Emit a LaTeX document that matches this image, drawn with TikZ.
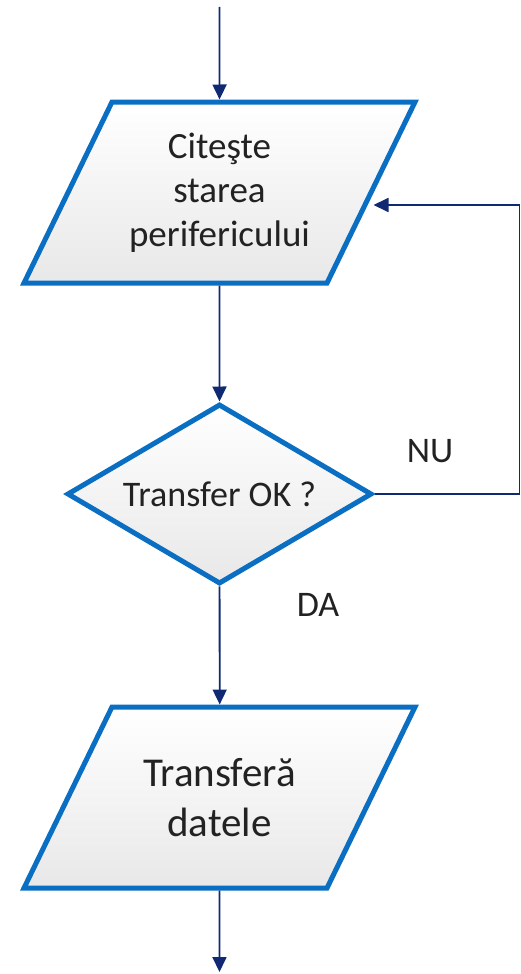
\documentclass[tikz,border=0pt]{standalone}
\usepackage{fontspec}
\setmainfont{Carlito}
\usetikzlibrary{shapes.geometric,arrows.meta,shadows}
\definecolor{boxline}{HTML}{0A6FC2}
\definecolor{flowline}{HTML}{0F2A73}
\definecolor{txt}{HTML}{222222}
\tikzset{
  shapebase/.style={draw=boxline, line width=5pt, line join=miter,
    top color=white, bottom color=black!9, inner sep=0pt,
    drop shadow={opacity=0.12, shadow xshift=2pt, shadow yshift=-2pt}},
  % input/output box: a slanted rectangle
  iobox/.style={shapebase, rectangle, xslant=0.486, transform shape,
    minimum width=303pt, minimum height=181pt},
  decision/.style={shapebase, diamond, shape aspect=1.69,
    minimum width=305pt, minimum height=180pt},
  label/.style={text=txt, align=center},
  flow/.style={draw=flowline, line width=1.8pt,
    -{Triangle[width=14pt,length=15pt]}},
  tag/.style={text=txt, font=\fontsize{36}{43}\selectfont}
}
\begin{document}
\begin{tikzpicture}[x=1pt,y=-1pt]
\useasboundingbox (0,0) rectangle (521,974);

% read the device state
\node[iobox] (readbox) at (219.5,192.5) {};
\node[label, font=\fontsize{37}{44}\selectfont] (read) at (readbox.center)
  {Citeşte\\starea\\perifericului};

% the test
\node[decision, text=txt, font=\fontsize{36}{43}\selectfont] (test) at (219.5,494)
  {Transfer OK ?};

% transfer the data
\node[iobox] (xferbox) at (219.5,797.5) {};
\node[label, font=\fontsize{41}{50}\selectfont] (xfer) at (xferbox.center)
  {Transferă\\datele};

% free ends and the loop corner
\coordinate (in) at (219.5,7);
\coordinate (out) at (219.5,972);
\coordinate (loop) at (519.5,494);

% branch labels
\node[tag] (nu) at (430,451) {NU};
\node[tag] (da) at (318,605) {DA};

% connectors
\draw[flow] (in) -- (readbox);
\draw[flow] (readbox) -- (test);
\draw[flow] (test) -- (xferbox);
\draw[flow] (xferbox) -- (out);
\draw[flow] (test.east) -- (loop) |- ([yshift=-12.5pt]readbox.east);
\end{tikzpicture}
\end{document}
